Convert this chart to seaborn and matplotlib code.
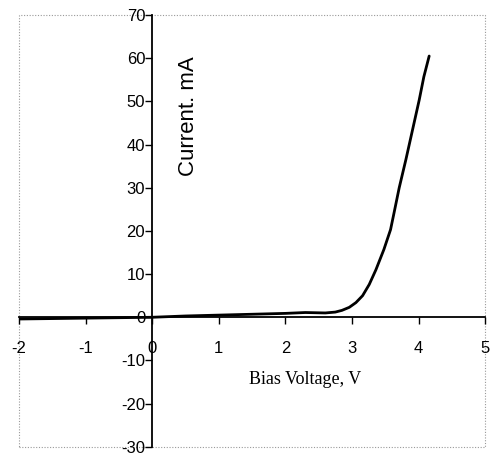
import matplotlib
matplotlib.use("Agg")
import matplotlib.pyplot as plt
import seaborn as sns
import pandas as pd
from matplotlib.patches import Rectangle

# Data
bias_voltage = [-2.0, -1.5, -1.0, -0.5, 0.0, 0.5, 1.0, 1.5, 2.0, 2.3, 2.6, 2.75, 2.85,
                2.96, 3.06, 3.16, 3.26, 3.36, 3.48, 3.58, 3.63, 3.71, 3.81, 3.91,
                4.01, 4.08, 4.16]
current_ma = [-0.4, -0.3, -0.2, -0.1, 0.0, 0.3, 0.5, 0.7, 0.9, 1.1, 1.0, 1.2, 1.6,
              2.3, 3.4, 5.0, 7.6, 11.0, 15.7, 20.3, 24.0, 30.0, 36.5, 43.4,
              50.3, 55.7, 60.5]
x_ticks = [-2, -1, 0, 1, 2, 3, 4, 5]
y_ticks = [-30, -20, -10, 0, 10, 20, 30, 40, 50, 60, 70]

df = pd.DataFrame({"V": bias_voltage, "I": current_ma})

sns.set_style("white")
plt.rcParams['font.family'] = ['Liberation Sans', 'DejaVu Sans']

fig = plt.figure(figsize=(4.93, 4.55), dpi=100)
ax = fig.add_axes([0.0385, 0.018, 0.9455, 0.949])

sns.lineplot(data=df, x="V", y="I", ax=ax, color="black", linewidth=2.0,
             estimator=None, sort=False)

ax.set_xlim(-2, 5)
ax.set_ylim(-30, 70)

ax.spines['left'].set_position(('data', 0))
ax.spines['bottom'].set_position(('data', 0))
ax.spines['top'].set_visible(False)
ax.spines['right'].set_visible(False)
for s in ('left', 'bottom'):
    ax.spines[s].set_color('black')
    ax.spines[s].set_linewidth(1.3)

ax.set_xticks(x_ticks)
ax.set_yticks(y_ticks)
ax.set_xticklabels([str(t) for t in x_ticks])
ax.set_yticklabels([str(t) for t in y_ticks])
ax.tick_params(axis='x', direction='out', length=5, width=1.0, pad=12,
               labelsize=12, colors='black', bottom=True)
ax.tick_params(axis='y', direction='out', length=5, width=1.0, pad=0,
               labelsize=12, colors='black', left=True)

ax.set_xlabel("")
ax.set_ylabel("")

ax.text(0.54, 46.6, "Current. mA", rotation=90, ha='center', va='center',
        fontsize=16, color='black')
ax.text(2.30, -14.3, "Bias Voltage, V", ha='center', va='center',
        fontsize=13, color='black', family=['Liberation Serif', 'DejaVu Serif'])

border = Rectangle((0, 0), 1, 1, transform=ax.transAxes, fill=False,
                   edgecolor='#999999', linestyle=(0, (1, 1.5)), linewidth=0.8,
                   clip_on=False, zorder=0)
ax.add_patch(border)

fig.savefig("out.png", dpi=100)
